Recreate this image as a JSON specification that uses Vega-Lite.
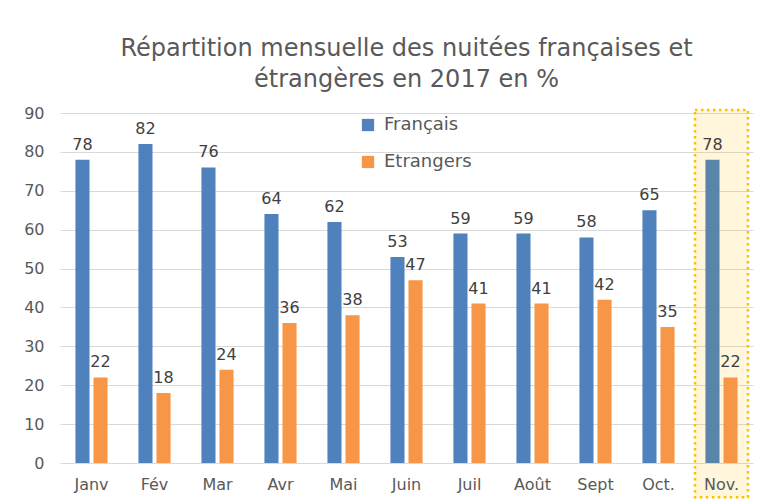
{
  "$schema": "https://vega.github.io/schema/vega-lite/v6.json",
  "width": 693,
  "height": 350,
  "autosize": "none",
  "padding": {"left": 60, "top": 113, "right": 17, "bottom": 37},
  "background": "white",
  "title": {
    "text": ["Répartition mensuelle des nuitées françaises et", "étrangères en 2017 en %"],
    "font": "DejaVu Sans",
    "fontSize": 24,
    "fontWeight": "normal",
    "color": "#595959",
    "lineHeight": 31,
    "anchor": "middle",
    "offset": 13
  },
  "datasets": {
    "nuitees": [
      {"mois": "Janv", "serie": "Français", "valeur": 78},
      {"mois": "Janv", "serie": "Etrangers", "valeur": 22},
      {"mois": "Fév", "serie": "Français", "valeur": 82},
      {"mois": "Fév", "serie": "Etrangers", "valeur": 18},
      {"mois": "Mar", "serie": "Français", "valeur": 76},
      {"mois": "Mar", "serie": "Etrangers", "valeur": 24},
      {"mois": "Avr", "serie": "Français", "valeur": 64},
      {"mois": "Avr", "serie": "Etrangers", "valeur": 36},
      {"mois": "Mai", "serie": "Français", "valeur": 62},
      {"mois": "Mai", "serie": "Etrangers", "valeur": 38},
      {"mois": "Juin", "serie": "Français", "valeur": 53},
      {"mois": "Juin", "serie": "Etrangers", "valeur": 47},
      {"mois": "Juil", "serie": "Français", "valeur": 59},
      {"mois": "Juil", "serie": "Etrangers", "valeur": 41},
      {"mois": "Août", "serie": "Français", "valeur": 59},
      {"mois": "Août", "serie": "Etrangers", "valeur": 41},
      {"mois": "Sept", "serie": "Français", "valeur": 58},
      {"mois": "Sept", "serie": "Etrangers", "valeur": 42},
      {"mois": "Oct.", "serie": "Français", "valeur": 65},
      {"mois": "Oct.", "serie": "Etrangers", "valeur": 35},
      {"mois": "Nov.", "serie": "Français", "valeur": 78},
      {"mois": "Nov.", "serie": "Etrangers", "valeur": 22}
    ],
    "surlignage": [
      {"mois": "Nov.", "haut": 90.8, "bas": -8.8}
    ]
  },
  "encoding": {
    "x": {
      "field": "mois",
      "type": "nominal",
      "sort": ["Janv", "Fév", "Mar", "Avr", "Mai", "Juin", "Juil", "Août", "Sept", "Oct.", "Nov."],
      "scale": {"paddingInner": 0.49, "paddingOuter": 0.245},
      "axis": {
        "title": null,
        "labelAngle": 0,
        "labelFont": "DejaVu Sans",
        "labelFontSize": 16,
        "labelColor": "#595959",
        "labelPadding": 13,
        "labelOverlap": false,
        "ticks": false,
        "domain": false,
        "grid": false
      }
    }
  },
  "layer": [
    {
      "data": {"name": "surlignage"},
      "mark": {
        "type": "rect",
        "width": 53,
        "fill": "#FFC000",
        "fillOpacity": 0.14,
        "stroke": "#FFC000",
        "strokeWidth": 2.5,
        "strokeDash": [2.5, 3.5],
        "clip": false
      },
      "encoding": {
        "y": {
          "field": "haut",
          "type": "quantitative",
          "scale": {"domain": [0, 90]},
          "axis": {
            "title": null,
            "values": [0, 10, 20, 30, 40, 50, 60, 70, 80, 90],
            "labelFont": "DejaVu Sans",
            "labelFontSize": 16,
            "labelColor": "#595959",
            "labelPadding": 16,
            "labelOverlap": false,
            "ticks": false,
            "domain": false,
            "grid": true,
            "gridColor": "#D9D9D9",
            "gridWidth": 1
          }
        },
        "y2": {"field": "bas"}
      }
    },
    {
      "data": {"name": "nuitees"},
      "mark": {"type": "bar"},
      "encoding": {
        "xOffset": {
          "field": "serie",
          "type": "nominal",
          "sort": ["Français", "Etrangers"],
          "scale": {"paddingInner": 0.22, "paddingOuter": 0}
        },
        "y": {
          "field": "valeur",
          "type": "quantitative",
          "scale": {"domain": [0, 90]},
          "axis": {
            "title": null,
            "values": [0, 10, 20, 30, 40, 50, 60, 70, 80, 90],
            "labelFont": "DejaVu Sans",
            "labelFontSize": 16,
            "labelColor": "#595959",
            "labelPadding": 16,
            "labelOverlap": false,
            "ticks": false,
            "domain": false,
            "grid": true,
            "gridColor": "#D9D9D9",
            "gridWidth": 1
          }
        },
        "fill": {
          "condition": {
            "test": "datum.mois === 'Nov.' && datum.serie === 'Français'",
            "value": "#5B85A8"
          },
          "field": "serie",
          "type": "nominal",
          "sort": ["Français", "Etrangers"],
          "scale": {"domain": ["Français", "Etrangers"], "range": ["#4F81BD", "#F79646"]},
          "legend": {
            "title": null,
            "orient": "none",
            "legendX": 299,
            "legendY": 3,
            "symbolType": "square",
            "symbolSize": 150,
            "symbolStrokeWidth": 0,
            "labelFont": "DejaVu Sans",
            "labelFontSize": 18,
            "labelColor": "#595959",
            "labelOffset": 7,
            "rowPadding": 19
          }
        }
      }
    },
    {
      "data": {"name": "nuitees"},
      "mark": {
        "type": "text",
        "font": "DejaVu Sans",
        "fontSize": 16,
        "color": "#404040",
        "baseline": "alphabetic",
        "dy": -10
      },
      "encoding": {
        "xOffset": {
          "field": "serie",
          "type": "nominal",
          "sort": ["Français", "Etrangers"],
          "scale": {"paddingInner": 0.22, "paddingOuter": 0}
        },
        "y": {
          "field": "valeur",
          "type": "quantitative",
          "axis": {
            "title": null,
            "values": [0, 10, 20, 30, 40, 50, 60, 70, 80, 90],
            "labelFont": "DejaVu Sans",
            "labelFontSize": 16,
            "labelColor": "#595959",
            "labelPadding": 16,
            "labelOverlap": false,
            "ticks": false,
            "domain": false,
            "grid": true,
            "gridColor": "#D9D9D9",
            "gridWidth": 1
          }
        },
        "text": {"field": "valeur", "type": "quantitative"}
      }
    }
  ],
  "config": {
    "view": {"stroke": null}
  }
}
